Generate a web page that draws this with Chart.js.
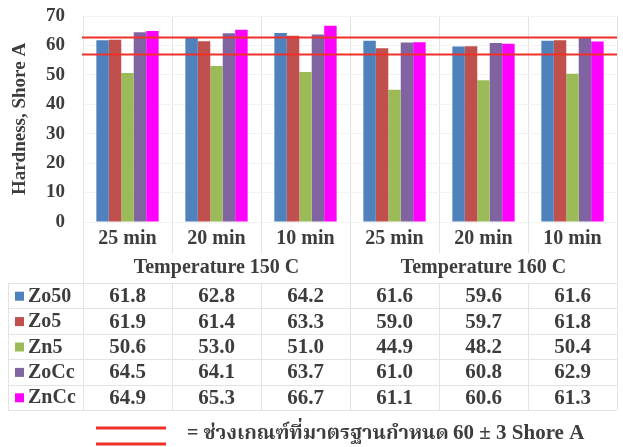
<!DOCTYPE html>
<html><head><meta charset="utf-8">
<script src="https://cdn.jsdelivr.net/npm/chart.js@4.4.0/dist/chart.umd.min.js"></script>
<style>html,body{margin:0;padding:0;background:#fff;}#wrap{width:623px;height:447px;}</style>
</head><body><div id="wrap"><canvas id="c" width="623" height="447"></canvas></div>
<script>
const categories = ['25 min','20 min','10 min','25 min','20 min','10 min'];
const groupLabels = ['Temperature 150 C','Temperature 160 C'];
const groupSpans = [3,3];
const seriesNames = ['Zo50','Zo5','Zn5','ZoCc','ZnCc'];
const zo50 = [61.8,62.8,64.2,61.6,59.6,61.6];
const zo5  = [61.9,61.4,63.3,59.0,59.7,61.8];
const zn5  = [50.6,53.0,51.0,44.9,48.2,50.4];
const zocc = [64.5,64.1,63.7,61.0,60.8,62.9];
const zncc = [64.9,65.3,66.7,61.1,60.6,61.3];
const seriesColors = ['#4F81BD','#C0504D','#9BBB59','#8064A2','#FF00FF'];
const limitLines = [57,63];
const yTicks = {min:0,max:70,step:10};
const yTitle = 'Hardness, Shore A';
const legendThai = '= ช่วงเกณฑ์ที่มาตรฐานกำหนด';
const legendLatin = '60 ± 3 Shore A';

const FONT = "'Liberation Serif','Times New Roman','Noto Serif Thai','Noto Sans Thai',serif";
const TXT = '#3d3d3d';
const GRID = '#e3e3e3';
const RED = '#f0302a';
const allSeries = [zo50,zo5,zn5,zocc,zncc];

const tablePlugin = {
  id:'tablePlugin',
  afterDatasetsDraw(chart){
    const {ctx, chartArea:a, scales:{y}} = chart;
    ctx.save();
    ctx.strokeStyle = RED; ctx.lineWidth = 2;
    limitLines.forEach(v=>{
      const py = Math.round(y.getPixelForValue(v))+0.5;
      ctx.beginPath(); ctx.moveTo(a.left-1,py); ctx.lineTo(a.right,py); ctx.stroke();
    });
    ctx.restore();
  },
  afterDraw(chart){
    const {ctx, chartArea:a, scales:{x}} = chart;
    const n = categories.length;
    const colW = (a.right-a.left)/n;
    const tableTop = 283;
    const tickRowBottom = a.bottom+31;
    const rowH = 25.4;
    const tableBottom = tableTop + rowH*seriesNames.length;
    const tableLeft = 8;
    ctx.save();
    ctx.strokeStyle = GRID; ctx.lineWidth = 1;
    for(let i=0;i<=seriesNames.length;i++){
      const py = Math.round(tableTop + i*rowH)+0.5;
      ctx.beginPath(); ctx.moveTo(tableLeft,py); ctx.lineTo(a.right,py); ctx.stroke();
    }
    const vx = v=>Math.round(v)+0.5;
    ctx.beginPath(); ctx.moveTo(vx(tableLeft),tableTop); ctx.lineTo(vx(tableLeft),tableBottom); ctx.stroke();
    let acc=0;
    const groupEdges=[0];
    groupSpans.forEach(s=>{acc+=s;groupEdges.push(acc);});
    for(let i=0;i<=n;i++){
      const px = vx(a.left + i*colW);
      ctx.beginPath();
      if(groupEdges.includes(i)){ ctx.moveTo(px,a.bottom); ctx.lineTo(px,tableBottom); }
      else { ctx.moveTo(px,a.bottom); ctx.lineTo(px,tickRowBottom); ctx.moveTo(px,tableTop); ctx.lineTo(px,tableBottom); }
      ctx.stroke();
    }
    ctx.fillStyle = TXT;
    ctx.font = 'bold 20px '+FONT;
    ctx.textAlign='center'; ctx.textBaseline='middle';
    groupLabels.forEach((g,i)=>{
      const l = a.left + groupEdges[i]*colW, r = a.left + groupEdges[i+1]*colW;
      ctx.fillText(g,(l+r)/2,268);
    });
    seriesNames.forEach((name,si)=>{
      const cy = tableTop + rowH*si + rowH/2 + 1;
      ctx.fillStyle = seriesColors[si];
      ctx.fillRect(15,cy-5,9,9);
      ctx.fillStyle = TXT; ctx.textAlign='left';
      ctx.font = 'bold 20px '+FONT;
      ctx.fillText(name,28,cy);
      ctx.textAlign='center';
      ctx.font = 'bold 21px '+FONT;
      allSeries[si].forEach((v,ci)=>{
        ctx.fillText(v.toFixed(1), x.getPixelForValue(ci), cy);
      });
    });
    ctx.strokeStyle = RED; ctx.lineWidth = 3;
    [428,444].forEach(py=>{ctx.beginPath();ctx.moveTo(96,py);ctx.lineTo(166,py);ctx.stroke();});
    ctx.fillStyle = TXT; ctx.textAlign='left'; ctx.textBaseline='middle';
    ctx.font = 'bold 20px '+FONT;
    ctx.fillText(legendThai,187,434);
    ctx.font = 'bold 21px '+FONT;
    ctx.fillText(legendLatin,453,434);
    ctx.restore();
  }
};

new Chart(document.getElementById('c'),{
  type:'bar',
  data:{
    labels:categories,
    datasets: seriesNames.map((nm,i)=>({label:nm,data:allSeries[i],backgroundColor:seriesColors[i],borderWidth:0,barPercentage:1.0,categoryPercentage:0.7}))
  },
  options:{
    responsive:false,animation:false,
    layout:{padding:{top:16,right:6,left:9,bottom:0}},
    plugins:{legend:{display:false},tooltip:{enabled:false}},
    scales:{
      x:{
        grid:{offset:true,color:GRID,drawTicks:false},
        border:{display:false},
        ticks:{color:TXT,font:{family:FONT,size:20,weight:'bold'},padding:5,maxRotation:0,autoSkip:false},
        afterFit(s){s.height=225;s.paddingLeft=0;s.paddingRight=0;}
      },
      y:{
        min:yTicks.min,max:yTicks.max,
        grid:{color:'#f3f3f3',drawTicks:false},
        border:{display:false},
        ticks:{stepSize:yTicks.step,color:TXT,font:{family:FONT,size:19,weight:'bold'},padding:18},
        title:{display:true,text:yTitle,color:TXT,font:{family:FONT,size:19,weight:'bold'},padding:{top:0,bottom:4}},
        afterFit(s){s.width=74;s.paddingTop=0;s.paddingBottom=0;}
      }
    }
  },
  plugins:[tablePlugin]
});
</script></body></html>
